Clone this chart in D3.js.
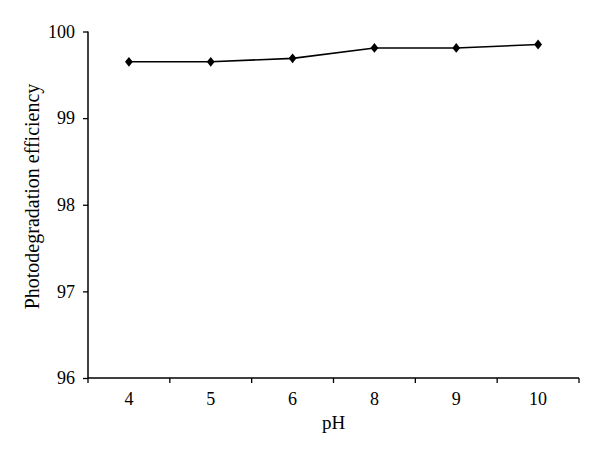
<!DOCTYPE html>
<html><head><meta charset="utf-8">
<script src="https://cdn.jsdelivr.net/npm/d3@7"></script>
<style>body{margin:0;background:#fff}svg{display:block}</style>
</head><body>
<script>
const categories = ["4","5","6","8","9","10"];
const efficiency = [99.65, 99.65, 99.69, 99.81, 99.81, 99.85];
const yTicks = [96, 97, 98, 99, 100];

(function () {
const W = 600, H = 458;
const mLeft = 88, mRight = 579, mTop = 31.5, mBottom = 378;
const svg = d3.select("body").append("svg").attr("width", W).attr("height", H);
const font = "'Liberation Serif', 'DejaVu Serif', serif";

const x = d3.scaleBand().domain(categories).range([mLeft, mRight]).padding(0);
const y = d3.scaleLinear().domain([96, 100]).range([mBottom, mTop]);

// y axis
const ya = svg.append("g").attr("transform", `translate(${mLeft},0)`)
  .call(d3.axisLeft(y).tickValues(yTicks).tickSize(5).tickPadding(8).tickFormat(d3.format("d")));
ya.select(".domain").attr("stroke", "#000").attr("stroke-width", 1.5).attr("d", `M0,${mTop}V${mBottom}`);
ya.selectAll(".tick line").attr("stroke", "#000").attr("stroke-width", 1.3);
ya.selectAll("text").attr("font-family", font).attr("font-size", 18).attr("fill", "#000");

// x axis: ticks at band boundaries
const xa = svg.append("g").attr("transform", `translate(0,${mBottom})`);
xa.append("line").attr("x1", mLeft).attr("x2", mRight).attr("y1", 0).attr("y2", 0)
  .attr("stroke", "#000").attr("stroke-width", 1.5);
const bounds = categories.map(c => x(c)).concat([x(categories[categories.length-1]) + x.bandwidth()]);
xa.selectAll("line.tk").data(bounds).enter().append("line").attr("class","tk")
  .attr("x1", d => d).attr("x2", d => d).attr("y1", 0).attr("y2", 5)
  .attr("stroke", "#000").attr("stroke-width", 1.3);
xa.selectAll("text").data(categories).enter().append("text")
  .attr("x", d => x(d) + x.bandwidth()/2).attr("y", 27)
  .attr("text-anchor", "middle").attr("font-family", font).attr("font-size", 18).attr("fill", "#000")
  .text(d => d);

// line
const pts = categories.map((c, i) => [x(c) + x.bandwidth()/2, y(efficiency[i])]);
svg.append("path").attr("d", d3.line()(pts)).attr("fill", "none").attr("stroke", "#000").attr("stroke-width", 1.6);
svg.selectAll("path.mk").data(pts).enter().append("path").attr("class","mk")
  .attr("d", d3.symbol().type(d3.symbolDiamond).size(34)())
  .attr("transform", d => `translate(${d[0]},${d[1]}) scale(1.25,0.9)`)
  .attr("fill", "#000");

// titles
svg.append("text").attr("x", (mLeft+mRight)/2).attr("y", 429).attr("text-anchor", "middle")
  .attr("font-family", font).attr("font-size", 19).attr("fill", "#000").text("pH");
svg.append("text").attr("transform", `translate(39,196.5) rotate(-90)`).attr("text-anchor", "middle")
  .attr("font-family", font).attr("font-size", 20).attr("fill", "#000").text("Photodegradation efficiency");
})();
</script>
</body></html>
